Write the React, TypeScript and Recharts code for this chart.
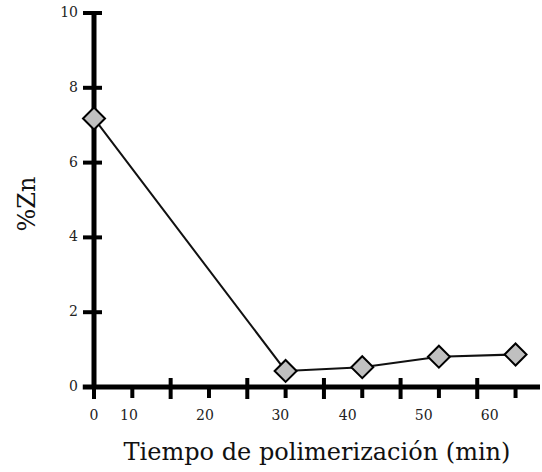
import { LineChart, Line, XAxis, YAxis, ReferenceLine } from "recharts";

// tiempo de polimerización (min) y %Zn
const tiempos = [0, 29, 40.6, 52.2, 63.8];
const zinc = [7.18, 0.43, 0.53, 0.81, 0.87];

// marcas del eje X (grandes y pequeñas alternadas)
const marcasX = [0, 5.8, 11.6, 17.4, 23.2, 29, 34.8, 40.6, 46.4, 52.2, 58, 63.8];
// etiquetas del eje X y dónde caen en el original
const etiquetasX = ["0", "10", "20", "30", "40", "50", "60"];
const posEtiquetasX = [0, 5.3, 16.8, 28.2, 38.4, 49.9, 59.9];

const ticksY = [0, 2, 4, 6, 8, 10];

const data = tiempos.map((t, i) => ({ t, zn: zinc[i] }));
const ticksX = Array.from(new Set([...marcasX, ...posEtiquetasX])).sort((a, b) => a - b);

const FONT = "'DejaVu Serif', serif";

const TickX = ({ x, y, payload }: any) => {
  const v = payload.value;
  const iMarca = marcasX.indexOf(v);
  const iEtiq = posEtiquetasX.indexOf(v);
  return (
    <g>
      {iMarca >= 0 &&
        (iMarca % 2 === 0 ? (
          <line x1={x} x2={x} y1={y - 9} y2={y + 12} stroke="#000" strokeWidth={4} />
        ) : (
          <line x1={x} x2={x} y1={y} y2={y + 11} stroke="#000" strokeWidth={4} />
        ))}
      {iEtiq >= 0 && (
        <text x={x} y={y + 33} textAnchor="middle" fontSize={14} fontFamily={FONT} fill="#222">
          {etiquetasX[iEtiq]}
        </text>
      )}
    </g>
  );
};

const TickY = ({ x, y, payload }: any) => (
  <g>
    <line x1={x - 11} x2={x + 8} y1={y} y2={y} stroke="#000" strokeWidth={4} />
    <text x={x - 16} y={y + 4} textAnchor="end" fontSize={14} fontFamily={FONT} fill="#222">
      {payload.value}
    </text>
  </g>
);

const Rombo = ({ cx, cy }: any) => {
  if (cx == null || cy == null) return null;
  const r = 11;
  return (
    <polygon
      points={`${cx},${cy - r} ${cx + r},${cy} ${cx},${cy + r} ${cx - r},${cy}`}
      fill="#c0c0c0"
      stroke="#000"
      strokeWidth={2}
    />
  );
};

const App = () => (
  <div style={{ position: "absolute", left: 0, top: 0 }}>
    <LineChart width={542} height={472} data={data} margin={{ top: 13, right: 2, bottom: 0, left: 20 }}>
      <XAxis
        dataKey="t"
        type="number"
        domain={[0, 67.5]}
        ticks={ticksX}
        interval={0}
        tick={<TickX />}
        tickLine={false}
        tickSize={0}
        tickMargin={0}
        height={85}
        axisLine={{ stroke: "#000", strokeWidth: 5 }}
        label={{
          content: ({ viewBox }: any) => (
            <text
              x={viewBox.x + viewBox.width / 2}
              y={viewBox.y + 73}
              textAnchor="middle"
              fontSize={24}
              fontFamily={FONT}
              fill="#111"
            >
              Tiempo de polimerización (min)
            </text>
          ),
        }}
      />
      <YAxis
        type="number"
        domain={[0, 10]}
        ticks={ticksY}
        interval={0}
        width={74}
        tick={<TickY />}
        tickLine={false}
        tickSize={0}
        tickMargin={0}
        axisLine={{ stroke: "#000", strokeWidth: 5 }}
        label={{
          content: ({ viewBox }: any) => {
            const cx = viewBox.x + 7;
            const cy = viewBox.y + viewBox.height / 2 + 4;
            return (
              <text
                x={cx}
                y={cy}
                transform={`rotate(-90 ${cx} ${cy})`}
                textAnchor="middle"
                dominantBaseline="central"
                fontSize={24}
                fontFamily={FONT}
                fill="#111"
              >
                %Zn
              </text>
            );
          },
        }}
      />
      <ReferenceLine
        ifOverflow="visible"
        segment={[
          { x: -1.7, y: 0 },
          { x: 0, y: 0 },
        ]}
        stroke="#000"
        strokeWidth={5}
      />
      <Line
        type="linear"
        dataKey="zn"
        stroke="#111"
        strokeWidth={2}
        dot={<Rombo />}
        activeDot={false}
        isAnimationActive={false}
      />
    </LineChart>
  </div>
);

export default App;
